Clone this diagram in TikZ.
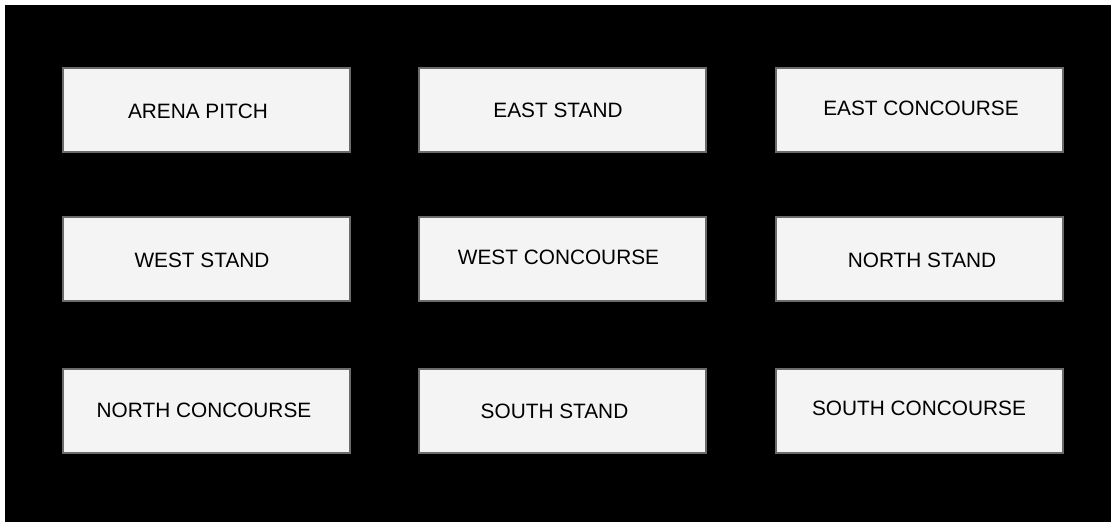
\documentclass[tikz,border=0pt]{standalone}
\usepackage{fontspec}
\setmainfont{Liberation Sans}
\definecolor{zonefill}{HTML}{F4F4F4}
\definecolor{zoneline}{HTML}{6B6B6B}
\tikzset{
  zone/.style={draw=zoneline, fill=zonefill, line width=2pt, minimum width=287pt,
    minimum height=84pt, inner sep=0pt, outer sep=0pt},
  zonetext/.style={font=\fontsize{20.8}{24}\selectfont, text=black, inner sep=0pt}
}
\begin{document}
\begin{tikzpicture}[x=1pt, y=-1pt]
    \useasboundingbox (0,0) rectangle (1111,522);
    \fill[white] (0,0) rectangle (1111,522);
    \fill[black] (5,5) rectangle (1111,522);

    % Top row
    \node[zone, label={[zonetext, shift={(-8.5,1.5)}]center:ARENA PITCH}] (pitch) at (206.5,110) {};
    \node[zone, label={[zonetext, shift={(-4.5,0.5)}]center:EAST STAND}] (eaststand) at (562.5,110) {};
    \node[zone, label={[zonetext, shift={(1.5,-2)}]center:EAST CONCOURSE}] (eastcon) at (919.5,110) {};

    % Middle row
    \node[zone, label={[zonetext, shift={(-4.5,1)}]center:WEST STAND}] (weststand) at (206.5,259) {};
    \node[zone, label={[zonetext, shift={(-4,-2)}]center:WEST CONCOURSE}] (westcon) at (562.5,259) {};
    \node[zone, label={[zonetext, shift={(2.5,1)}]center:NORTH STAND}] (northstand) at (919.5,259) {};

    % Bottom row
    \node[zone, label={[zonetext, shift={(-2.5,-1)}]center:NORTH CONCOURSE}] (northcon) at (206.5,411) {};
    \node[zone, label={[zonetext, shift={(-8,0.5)}]center:SOUTH STAND}] (southstand) at (562.5,411) {};
    \node[zone, label={[zonetext, shift={(-0.5,-2.5)}]center:SOUTH CONCOURSE}] (southcon) at (919.5,411) {};
\end{tikzpicture}
\end{document}
